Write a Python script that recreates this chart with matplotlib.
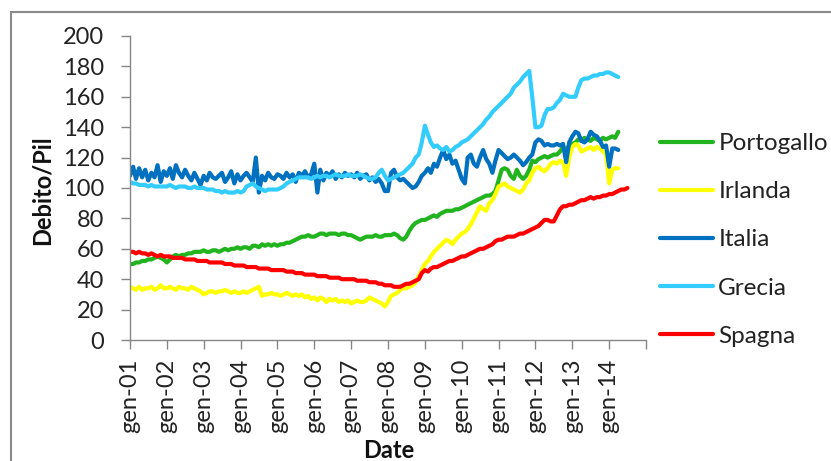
import numpy as np
import pandas as pd
import matplotlib
matplotlib.use("Agg")
import matplotlib.pyplot as plt
import matplotlib.dates as mdates
from matplotlib.patches import Rectangle

plt.rcParams['font.family'] = ['Lato', 'DejaVu Sans']

# monthly dates starting Jan 2001
months = pd.date_range('2001-01-01', periods=163, freq='MS')

portogallo = [
    50, 50, 51, 51, 52, 52, 53, 53, 54, 55, 54, 53,
    51, 53, 55, 56, 55, 56, 56, 57, 57, 58, 58, 58,
    59, 58, 58, 59, 59, 58, 59, 60, 59, 60, 60, 61,
    60, 61, 61, 60, 62, 62, 61, 63, 62, 63, 62, 63,
    62, 63, 63, 64, 64, 65, 66, 67, 68, 68, 69, 68,
    68, 69, 70, 70, 69, 70, 70, 70, 69, 70, 70, 69,
    69, 68, 67, 66, 67, 68, 68, 68, 69, 68, 68, 69,
    69, 69, 70, 69, 67, 66, 68, 72, 75, 77, 78, 79,
    79, 80, 81, 82, 81, 83, 84, 85, 85, 85, 86, 86,
    87, 88, 89, 90, 91, 92, 93, 94, 95, 95, 96, 98,
    105, 112, 113, 112, 108, 106, 112, 108, 106, 108, 112, 118,
    117, 119, 120, 121, 120, 121, 122, 122, 124, 127, 125, 128,
    129, 130, 132, 131, 133, 132, 131, 133, 132, 131, 133, 132,
    133, 134, 133, 137,
]

irlanda = [
    35, 34, 33, 35, 33, 34, 34, 35, 33, 34, 36, 34,
    34, 35, 34, 33, 35, 34, 34, 33, 35, 34, 33, 32,
    30, 31, 32, 32, 31, 32, 32, 33, 32, 31, 32, 31,
    31, 32, 31, 32, 33, 34, 35, 29, 30, 30, 31, 30,
    30, 29, 30, 31, 30, 29, 30, 29, 30, 28, 29, 27,
    28, 26, 28, 27, 25, 27, 26, 27, 25, 26, 25, 26,
    24, 25, 26, 25, 25, 26, 28, 27, 26, 25, 24, 22,
    25, 29, 30, 31, 33, 34, 34, 35, 36, 38, 42, 46,
    50, 52, 55, 58, 60, 62, 64, 66, 65, 63, 66, 68,
    70, 71, 73, 76, 80, 84, 88, 86, 85, 90, 92, 96,
    101, 102, 103, 101, 100, 99, 98, 97, 99, 103, 105, 110,
    113, 114, 112, 111, 113, 116, 117, 116, 118, 117, 108, 120,
    127, 129, 128, 124, 125, 126, 127, 125, 127, 126, 124, 122,
    103, 112, 113, 113,
]

italia = [
    108, 114, 106, 113, 107, 112, 105, 110, 107, 115, 104, 111,
    108, 113, 106, 115, 110, 107, 112, 108, 105, 110, 106, 102,
    108, 105, 110, 107, 106, 108, 110, 104, 107, 111, 103, 109,
    105, 108, 110, 107, 104, 120, 97, 108, 105, 110, 107, 106,
    109, 108, 106, 110, 107, 109, 104, 110, 108, 111, 107, 109,
    116, 97, 112, 105, 110, 108, 111, 106, 109, 107, 110, 108,
    109, 107, 110, 106, 108, 109, 105, 107, 104, 106, 103, 98,
    98, 110, 112, 107, 105, 106, 104, 102, 100, 101, 104, 108,
    110, 113, 110, 116, 114, 120, 125, 119, 122, 116, 118, 112,
    106, 103, 120, 122, 116, 114, 120, 125, 119, 116, 110, 118,
    125, 123, 121, 119, 120, 122, 120, 118, 115, 117, 120, 122,
    130, 132, 131, 128, 129, 128, 128, 129, 128, 129, 117, 130,
    134, 137, 136, 131, 130, 132, 137, 135, 134, 131, 127, 128,
    114, 126, 126, 125,
]

grecia = [
    104, 103, 103, 102, 102, 102, 101, 102, 101, 101, 101, 101,
    101, 102, 101, 100, 101, 101, 101, 100, 100, 101, 100, 100,
    100, 99, 99, 99, 98, 98, 97, 98, 97, 97, 97, 98,
    97, 98, 101, 102, 103, 101, 100, 99, 98, 99, 99, 99,
    99, 100, 101, 103, 104, 105, 106, 107, 107, 107, 107, 106,
    107, 108, 107, 108, 108, 107, 108, 109, 108, 108, 108, 109,
    108, 108, 108, 109, 108, 107, 106, 106, 107, 110, 112, 108,
    105, 106, 107, 108, 109, 110, 112, 114, 116, 120, 122, 130,
    141, 135, 130, 127, 128, 126, 125, 127, 124, 125, 127, 128,
    130, 131, 132, 134, 136, 138, 140, 142, 145, 147, 150, 152,
    154, 156, 158, 160, 162, 166, 168, 170, 173, 175, 177, 160,
    140, 140, 141, 148, 152, 152, 153, 156, 158, 162, 161, 160,
    160, 160, 166, 171, 172, 172, 173, 174, 174, 175, 175, 176,
    176, 175, 174, 173,
]

spagna = [
    58, 58, 57, 58, 57, 57, 56, 57, 56, 55, 56, 55,
    55, 55, 54, 54, 54, 54, 53, 53, 53, 53, 52, 52,
    52, 52, 51, 51, 51, 51, 51, 50, 50, 50, 49, 49,
    49, 49, 48, 48, 48, 48, 47, 47, 47, 47, 46, 46,
    46, 46, 46, 45, 45, 45, 44, 44, 44, 43, 43, 43,
    43, 42, 42, 42, 42, 41, 41, 41, 41, 40, 40, 40,
    40, 40, 39, 39, 39, 39, 38, 38, 38, 37, 37, 36,
    36, 36, 35, 35, 35, 36, 37, 37, 38, 39, 40, 44,
    46, 45, 47, 48, 48, 49, 50, 51, 52, 52, 53, 54,
    55, 55, 56, 57, 58, 59, 60, 60, 61, 62, 63, 65,
    66, 66, 67, 68, 68, 68, 69, 70, 70, 71, 72, 73,
    74, 75, 77, 79, 79, 78, 78, 82, 86, 88, 88, 89,
    89, 90, 91, 92, 92, 93, 94, 93, 94, 94, 95, 95,
    96, 96, 97, 98, 99, 99, 100,
]

series = [
    ("Portogallo", portogallo, "#22B41E"),
    ("Irlanda", irlanda, "#FFFF00"),
    ("Italia", italia, "#0070C0"),
    ("Grecia", grecia, "#33CCFF"),
    ("Spagna", spagna, "#FF0000"),
]

year_ticks = pd.date_range('2001-01-01', '2015-01-01', freq='YS')
tick_labels = ["gen-%02d" % (d.year % 100) for d in year_ticks[:-1]] + [""]
y_ticks = [0, 20, 40, 60, 80, 100, 120, 140, 160, 180, 200]

W, H = 831, 461
fig = plt.figure(figsize=(W / 100, H / 100), dpi=100)
ax = fig.add_axes([130 / W, 1 - 340 / H, (646 - 130) / W, (340 - 36) / H])

for name, vals, col in series:
    ax.plot(months[:len(vals)], vals, color=col, lw=3, label=name,
            solid_joinstyle='round', solid_capstyle='round')

ax.set_xlim(year_ticks[0], year_ticks[-1])
ax.set_ylim(0, 200)
ax.set_xticks(year_ticks)
ax.set_xticklabels(tick_labels, rotation=90, fontsize=17, color='#222222')
ax.set_yticks(y_ticks)
ax.set_yticklabels([str(v) for v in y_ticks], fontsize=17, color='#222222')

for s in ['top', 'right']:
    ax.spines[s].set_visible(False)
for s in ['left', 'bottom']:
    ax.spines[s].set_color('#868686')
    ax.spines[s].set_linewidth(1.0)
ax.tick_params(axis='y', direction='out', length=6.5, width=1, color='#868686', pad=12)
ax.tick_params(axis='x', direction='out', length=6.5, width=1, color='#868686', pad=7)

fig.text(42 / W, 1 - 190 / H, "Debito/Pil", rotation=90, ha='center', va='center',
         fontsize=17, fontweight='bold', color='#111111')
fig.text(389 / W, 1 - 450 / H, "Date", ha='center', va='center',
         fontsize=17, fontweight='bold', color='#111111')

leg = ax.legend(loc='upper left', bbox_to_anchor=(660 / W, 1 - 133 / H),
                bbox_transform=fig.transFigure, frameon=False, fontsize=17.5,
                handlelength=2.2, handletextpad=0.2, labelspacing=1.12,
                borderaxespad=0, borderpad=0)
for t in leg.get_texts():
    t.set_color('#222222')

fig.patches.append(Rectangle((11 / W, -0.1), 1.2, 1 - 12 / H + 0.1,
                             transform=fig.transFigure, fill=False,
                             edgecolor='#8a8a8a', linewidth=1.5))

fig.savefig('out.png', dpi=100)
